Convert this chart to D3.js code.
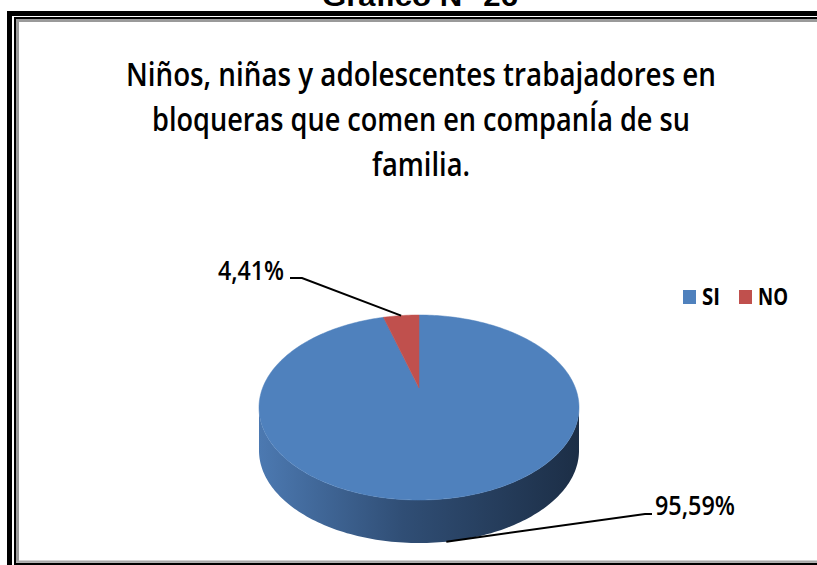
<!DOCTYPE html>
<html>
<head>
<meta charset="utf-8">
<script src="https://cdn.jsdelivr.net/npm/d3@7"></script>
<style>
  html, body { margin: 0; padding: 0; background: #fff; overflow: hidden; }
  svg { display: block; }
</style>
</head>
<body>
<div id="chart"></div>
<script>
// data
var categories = ["SI", "NO"];
var values = [95.59, 4.41];
var valueLabels = ["95,59%", "4,41%"];
var colors = ["#4f81bd", "#c0504d"];
var titleLines = [
  "Niños, niñas y adolescentes trabajadores en",
  "bloqueras que comen en companÍa de su",
  "familia."
];

var W = 817, H = 565;
var svg = d3.select("#chart").append("svg")
  .attr("width", W)
  .attr("height", H);

// outer frame of the page (thick + thin black, grey inner shadow)
var frame = svg.append("g");
frame.append("path").attr("d", "M9.5,565 V13.5 H817")
  .attr("fill", "none").attr("stroke", "#000").attr("stroke-width", 5);
frame.append("path").attr("d", "M15,565 V18 H817")
  .attr("fill", "none").attr("stroke", "#000").attr("stroke-width", 2);
frame.append("path").attr("d", "M15,564 H817")
  .attr("fill", "none").attr("stroke", "#000").attr("stroke-width", 2.5);
frame.append("path").attr("d", "M17.5,562 V20.5 H817")
  .attr("fill", "none").attr("stroke", "#9a9a9a").attr("stroke-width", 3);
frame.append("path").attr("d", "M16,561.5 H817")
  .attr("fill", "none").attr("stroke", "#a8a8a8").attr("stroke-width", 2);

// heading above the frame, cut by the top of the picture
svg.append("text")
  .attr("x", 420).attr("y", 6)
  .attr("text-anchor", "middle")
  .attr("font-family", "Liberation Sans, Arial, sans-serif")
  .attr("font-weight", "bold")
  .attr("font-size", 27)
  .attr("textLength", 196)
  .attr("lengthAdjust", "spacingAndGlyphs")
  .text("Gráfico N° 26");

// chart title
var titleW = [590, 538, 98];
svg.append("g").selectAll("text")
  .data(titleLines)
  .join("text")
  .attr("x", 421)
  .attr("y", function(d, i) { return 86 + i * 45; })
  .attr("text-anchor", "middle")
  .attr("font-family", "Open Sans, sans-serif")
  .attr("font-weight", 600)
  .attr("font-size", 32)
  .attr("fill", "#000")
  .attr("textLength", function(d, i) { return titleW[i]; })
  .attr("lengthAdjust", "spacingAndGlyphs")
  .text(function(d) { return d; });

// 3D pie in perspective
var cx = 419, cy = 388;   // apex of the slices
var a = 156.4, b = 88.4;  // radii before perspective
var k = 0.211;            // perspective strength
var depth = 43;

function proj(theta, dz) {
  var u = Math.sin(theta), v = -Math.cos(theta);
  var w = 1 - k * v;
  return [cx + a * u / w, cy + b * v / w + (dz || 0)];
}

var pie = d3.pie().sort(null).value(function(d) { return d; });
var arcs = pie(values);
var color = d3.scaleOrdinal().domain(categories).range(colors);
var line = d3.line();

function sample(t0, t1, dz) {
  var n = Math.max(2, Math.ceil(Math.abs(t1 - t0) / 0.02));
  return d3.range(n + 1).map(function(i) {
    return proj(t0 + (t1 - t0) * i / n, dz);
  });
}

var defs = svg.append("defs");
var grad = defs.append("linearGradient").attr("id", "side")
  .attr("x1", "0").attr("x2", "1").attr("y1", "0").attr("y2", "0");
grad.append("stop").attr("offset", "0").attr("stop-color", "#4c79b1");
grad.append("stop").attr("offset", "0.45").attr("stop-color", "#304e75");
grad.append("stop").attr("offset", "1").attr("stop-color", "#1c2e46");

// visible front wall, between the left and right silhouette points
var tR = Math.acos(-k), tL = 2 * Math.PI - Math.acos(-k);
var wall = sample(tR, tL, 0).concat(sample(tL, tR, depth));
svg.append("path")
  .attr("d", line(wall) + "Z")
  .attr("fill", "url(#side)");

// top faces
svg.append("g").selectAll("path")
  .data(arcs)
  .join("path")
  .attr("d", function(d) {
    return line([[cx, cy]].concat(sample(d.startAngle, d.endAngle, 0))) + "Z";
  })
  .attr("fill", function(d, i) { return color(categories[i]); })
  .attr("stroke", function(d, i) { return color(categories[i]); })
  .attr("stroke-width", 0.5);

// data labels with leader lines
var labelPos = [
  { x: 655, y: 515, anchor: "start", elbow: [[652, 514], [645, 514]], dz: depth },
  { x: 284, y: 280, anchor: "end", elbow: [[290, 278], [302, 278]], dz: 0 }
];
var lab = svg.append("g");
arcs.forEach(function(d, i) {
  var p = labelPos[i];
  var mid = (d.startAngle + d.endAngle) / 2;
  lab.append("path")
    .attr("d", line(p.elbow.concat([proj(mid, p.dz)])))
    .attr("fill", "none")
    .attr("stroke", "#000")
    .attr("stroke-width", 2);
  lab.append("text")
    .attr("x", p.x).attr("y", p.y)
    .attr("text-anchor", p.anchor)
    .attr("font-family", "Open Sans, sans-serif")
    .attr("font-weight", 600)
    .attr("font-size", 27)
    .attr("fill", "#000")
    .attr("textLength", i === 0 ? 80 : 66)
    .attr("lengthAdjust", "spacingAndGlyphs")
    .text(valueLabels[i]);
});

// legend
var legendX = [683, 739], legendW = [18, 30];
var legend = svg.append("g").selectAll("g")
  .data(categories)
  .join("g")
  .attr("transform", function(d, i) { return "translate(" + legendX[i] + ",290)"; });
legend.append("rect")
  .attr("width", 13).attr("height", 14)
  .attr("fill", function(d) { return color(d); });
legend.append("text")
  .attr("x", 19).attr("y", 15)
  .attr("font-family", "Open Sans, sans-serif")
  .attr("font-weight", "bold")
  .attr("font-size", 23)
  .attr("textLength", function(d, i) { return legendW[i]; })
  .attr("lengthAdjust", "spacingAndGlyphs")
  .text(function(d) { return d; });
</script>
</body>
</html>
